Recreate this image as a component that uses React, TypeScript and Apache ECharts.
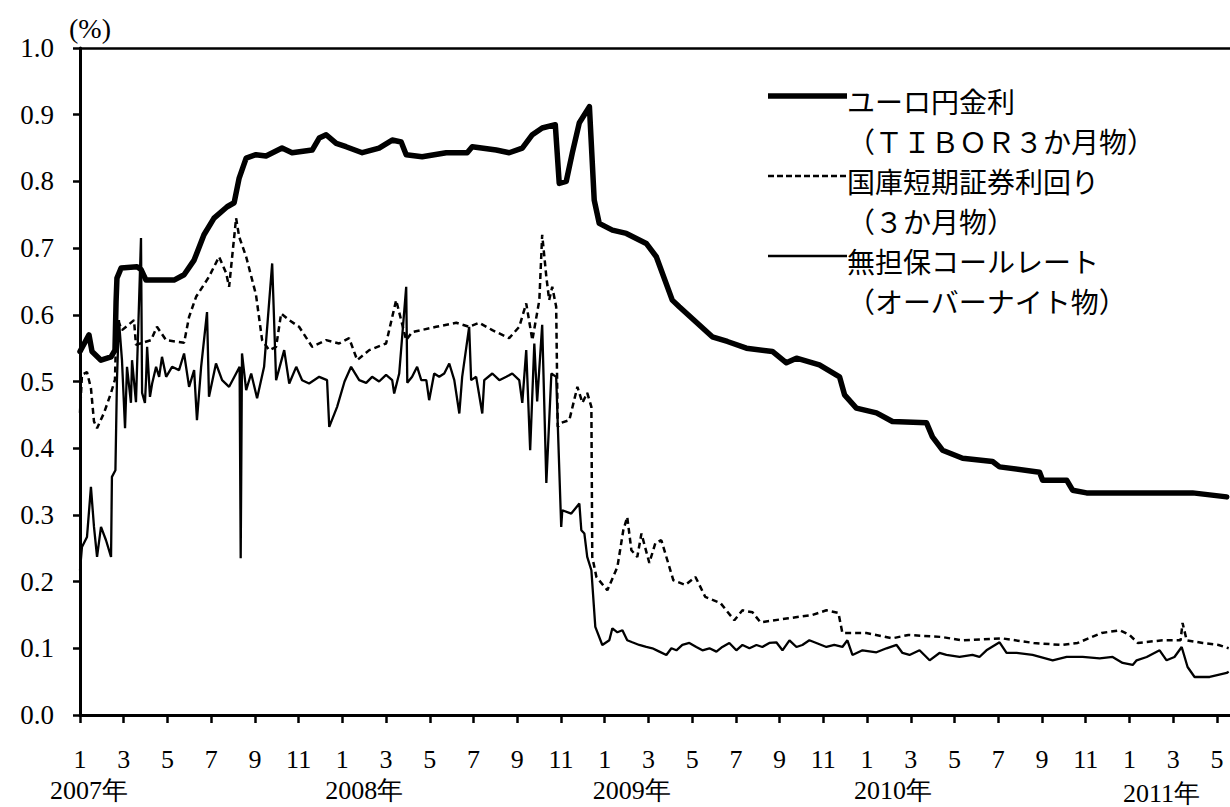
import React, { useEffect, useRef } from "react";
import * as echarts from "echarts";

// x values are months elapsed since 1 Jan 2007 (0 = Jan 2007, 12 = Jan 2008 ...)
const monthTicks = [0, 2, 4, 6, 8, 10, 12, 14, 16, 18, 20, 22, 24, 26, 28, 30, 32, 34, 36, 38, 40, 42, 44, 46, 48, 50, 52];
const yearTickMonths = [0, 12, 24, 36, 48];
const yearLabels = ["2007年", "2008年", "2009年", "2010年", "2011年"];
const unitLabel = "(%)";

const seriesNames = [
  "ユーロ円金利（ＴＩＢＯＲ３か月物）",
  "国庫短期証券利回り（３か月物）",
  "無担保コールレート（オーバーナイト物）",
];
const legendText = [
  ["ユーロ円金利", "（ＴＩＢＯＲ３か月物）"],
  ["国庫短期証券利回り", "（３か月物）"],
  ["無担保コールレート", "（オーバーナイト物）"],
];

const tibor: [number, number][] = [
  [0.0, 0.545], [0.41, 0.57], [0.55, 0.545], [0.96, 0.532], [1.42, 0.537], [1.6, 0.547], [1.65, 0.62],
  [1.69, 0.655], [1.88, 0.67], [2.61, 0.672], [2.79, 0.668], [3.02, 0.652], [4.3, 0.652], [4.76, 0.66],
  [5.22, 0.682], [5.67, 0.72], [6.13, 0.745], [6.73, 0.762], [7.05, 0.768], [7.28, 0.805], [7.6, 0.835],
  [8.05, 0.84], [8.51, 0.838], [9.24, 0.85], [9.7, 0.843], [10.62, 0.847], [10.94, 0.865], [11.26, 0.87],
  [11.72, 0.857], [12.17, 0.852], [12.91, 0.843], [13.68, 0.85], [14.28, 0.862], [14.69, 0.859],
  [14.92, 0.84], [15.65, 0.837], [16.75, 0.843], [17.71, 0.843], [17.94, 0.852], [19.04, 0.847],
  [19.63, 0.843], [20.23, 0.85], [20.69, 0.87], [21.14, 0.88], [21.74, 0.885], [21.92, 0.797],
  [22.24, 0.8], [22.52, 0.843], [22.84, 0.888], [23.3, 0.912], [23.52, 0.772], [23.75, 0.737],
  [24.35, 0.727], [24.99, 0.722], [25.9, 0.707], [26.36, 0.687], [27.09, 0.622], [27.41, 0.612],
  [28.92, 0.567], [29.61, 0.56], [30.48, 0.55], [31.67, 0.545], [32.31, 0.528], [32.77, 0.535],
  [33.82, 0.525], [34.74, 0.507], [34.97, 0.48], [35.51, 0.46], [36.43, 0.453], [37.16, 0.44],
  [38.72, 0.438], [38.99, 0.417], [39.45, 0.397], [40.37, 0.385], [41.74, 0.38], [42.06, 0.372],
  [43.89, 0.364], [44.03, 0.352], [45.13, 0.352], [45.4, 0.337], [46.04, 0.333], [50.89, 0.333],
  [52.45, 0.327],
];

const tbill: [number, number][] = [
  [0.0, 0.453], [0.09, 0.51], [0.32, 0.514], [0.5, 0.49], [0.64, 0.44], [0.78, 0.43], [1.1, 0.453],
  [1.42, 0.483], [1.6, 0.503], [1.67, 0.597], [1.92, 0.577], [2.47, 0.592], [2.56, 0.555], [3.25, 0.562],
  [3.52, 0.582], [3.94, 0.562], [4.76, 0.558], [4.99, 0.597], [5.31, 0.627], [5.9, 0.657], [6.36, 0.687],
  [6.68, 0.663], [6.82, 0.642], [7.14, 0.745], [7.28, 0.717], [7.6, 0.687], [8.05, 0.63], [8.33, 0.562],
  [8.65, 0.547], [8.97, 0.552], [9.2, 0.602], [9.57, 0.592], [10.02, 0.582], [10.62, 0.552],
  [11.26, 0.562], [11.85, 0.557], [12.31, 0.565], [12.68, 0.532], [13.23, 0.547], [14.0, 0.557],
  [14.46, 0.622], [14.69, 0.592], [14.92, 0.562], [15.19, 0.574], [16.29, 0.582], [17.21, 0.588],
  [17.8, 0.582], [18.26, 0.588], [18.86, 0.577], [19.63, 0.565], [20.09, 0.582], [20.41, 0.617],
  [20.69, 0.562], [21.01, 0.622], [21.14, 0.72], [21.33, 0.657], [21.46, 0.622], [21.6, 0.642],
  [21.78, 0.612], [21.85, 0.432], [22.01, 0.438], [22.38, 0.442], [22.75, 0.492], [22.98, 0.468],
  [23.2, 0.483], [23.39, 0.462], [23.43, 0.237], [23.62, 0.207], [24.12, 0.187], [24.58, 0.222],
  [24.85, 0.277], [25.03, 0.297], [25.22, 0.247], [25.49, 0.237], [25.68, 0.272], [26.04, 0.228],
  [26.32, 0.258], [26.59, 0.262], [27.14, 0.202], [27.69, 0.195], [28.15, 0.207], [28.6, 0.177],
  [29.29, 0.168], [29.93, 0.142], [30.3, 0.157], [30.76, 0.154], [31.12, 0.139], [32.4, 0.145],
  [33.5, 0.15], [34.14, 0.157], [34.69, 0.153], [34.87, 0.123], [35.97, 0.123], [37.16, 0.115],
  [37.89, 0.12], [39.41, 0.117], [40.32, 0.112], [42.15, 0.115], [43.62, 0.108], [44.9, 0.105],
  [45.63, 0.108], [46.73, 0.123], [47.55, 0.127], [48.01, 0.12], [48.38, 0.108], [49.52, 0.112],
  [50.34, 0.112], [50.43, 0.138], [50.62, 0.112], [51.35, 0.108], [52.08, 0.105], [52.54, 0.1],
];

const callRate: [number, number][] = [
  [0.0, 0.217], [0.09, 0.252], [0.32, 0.267], [0.5, 0.342], [0.64, 0.282], [0.78, 0.237], [0.96, 0.282],
  [1.19, 0.262], [1.42, 0.237], [1.46, 0.357], [1.62, 0.367], [1.69, 0.502], [1.78, 0.592], [1.92, 0.532],
  [2.06, 0.43], [2.15, 0.522], [2.33, 0.468], [2.38, 0.532], [2.56, 0.469], [2.61, 0.522], [2.79, 0.715],
  [2.84, 0.483], [2.97, 0.468], [3.02, 0.502], [3.07, 0.552], [3.2, 0.477], [3.3, 0.497], [3.48, 0.522],
  [3.62, 0.507], [3.75, 0.537], [3.94, 0.507], [4.21, 0.522], [4.53, 0.517], [4.76, 0.542], [4.99, 0.492],
  [5.22, 0.517], [5.35, 0.442], [5.54, 0.522], [5.81, 0.604], [5.9, 0.477], [6.22, 0.527], [6.5, 0.502],
  [6.82, 0.492], [7.14, 0.512], [7.3, 0.522], [7.35, 0.235], [7.41, 0.542], [7.6, 0.487], [7.83, 0.512],
  [8.1, 0.475], [8.42, 0.522], [8.79, 0.677], [8.97, 0.502], [9.34, 0.547], [9.57, 0.497], [9.89, 0.522],
  [10.16, 0.502], [10.48, 0.497], [10.94, 0.507], [11.3, 0.502], [11.4, 0.432], [11.76, 0.462],
  [12.1, 0.5], [12.4, 0.522], [12.77, 0.502], [13.09, 0.498], [13.36, 0.507], [13.68, 0.5], [14.0, 0.51],
  [14.28, 0.502], [14.37, 0.482], [14.6, 0.512], [14.92, 0.642], [14.97, 0.498], [15.19, 0.507],
  [15.42, 0.522], [15.61, 0.502], [15.84, 0.502], [15.97, 0.472], [16.2, 0.512], [16.43, 0.507],
  [16.66, 0.512], [16.89, 0.527], [17.12, 0.502], [17.35, 0.452], [17.48, 0.507], [17.8, 0.582],
  [17.89, 0.502], [18.12, 0.507], [18.4, 0.452], [18.49, 0.502], [18.86, 0.512], [19.18, 0.502],
  [19.5, 0.507], [19.77, 0.512], [20.09, 0.502], [20.23, 0.468], [20.41, 0.547], [20.59, 0.397],
  [20.78, 0.557], [20.91, 0.47], [21.14, 0.585], [21.33, 0.348], [21.56, 0.512], [21.78, 0.507],
  [22.01, 0.282], [22.06, 0.307], [22.47, 0.302], [22.84, 0.317], [22.93, 0.277], [23.07, 0.272],
  [23.2, 0.237], [23.39, 0.217], [23.57, 0.132], [23.89, 0.105], [24.21, 0.112], [24.35, 0.13],
  [24.58, 0.124], [24.81, 0.127], [25.03, 0.112], [25.26, 0.109], [25.58, 0.105], [25.9, 0.102],
  [26.18, 0.1], [26.5, 0.095], [26.82, 0.09], [27.05, 0.1], [27.28, 0.097], [27.55, 0.105], [27.87, 0.108],
  [28.19, 0.102], [28.47, 0.097], [28.79, 0.1], [29.11, 0.095], [29.38, 0.102], [29.7, 0.108],
  [30.02, 0.097], [30.3, 0.105], [30.62, 0.1], [30.94, 0.105], [31.21, 0.102], [31.53, 0.108],
  [31.85, 0.109], [32.13, 0.097], [32.45, 0.112], [32.77, 0.102], [33.04, 0.105], [33.36, 0.112],
  [33.68, 0.108], [34.14, 0.102], [34.5, 0.105], [34.87, 0.102], [35.1, 0.112], [35.33, 0.09],
  [35.79, 0.097], [36.43, 0.094], [36.89, 0.1], [37.35, 0.105], [37.62, 0.093], [37.94, 0.09],
  [38.4, 0.097], [38.86, 0.082], [39.31, 0.093], [39.63, 0.09], [40.23, 0.087], [40.82, 0.09],
  [41.14, 0.087], [41.46, 0.097], [42.06, 0.109], [42.38, 0.093], [42.84, 0.093], [43.57, 0.09],
  [44.49, 0.082], [45.13, 0.087], [45.86, 0.087], [46.64, 0.085], [47.23, 0.087], [47.69, 0.078],
  [48.15, 0.075], [48.33, 0.082], [48.79, 0.087], [49.38, 0.097], [49.7, 0.082], [50.06, 0.087],
  [50.39, 0.102], [50.66, 0.072], [50.98, 0.057], [51.67, 0.057], [52.45, 0.063], [52.54, 0.065],
];

const X_MAX = 52.6;
const NUM_FONT = "Liberation Serif";
const JP_FONT = "Noto Sans CJK JP";

export default function App() {
  const ref = useRef<HTMLDivElement>(null);

  useEffect(() => {
    if (!ref.current) return;
    const chart = echarts.init(ref.current, null, { renderer: "svg" });
    const axisLineStyle = { color: "#000", width: 3 };

    chart.setOption({
      animation: false,
      backgroundColor: "#fff",
      grid: { left: 80, right: 0, top: 48, bottom: 92, containLabel: false },
      xAxis: [
        {
          type: "value",
          min: 0,
          max: X_MAX,
          position: "bottom",
          axisLine: { show: true, lineStyle: axisLineStyle },
          axisTick: { show: true, customValues: monthTicks, length: 8, lineStyle: { color: "#000", width: 2.5 } },
          axisLabel: {
            customValues: monthTicks,
            formatter: (v: number) => String((Math.round(v) % 12) + 1),
            color: "#000",
            fontFamily: NUM_FONT,
            fontSize: 26,
            margin: 31,
          },
          splitLine: { show: false },
        },
        {
          type: "value",
          min: 0,
          max: X_MAX,
          position: "top",
          axisLine: { show: true, onZero: false, lineStyle: { color: "#000", width: 2.5 } },
          axisTick: { show: false },
          axisLabel: { show: false },
          splitLine: { show: false },
        },
      ],
      yAxis: {
        type: "value",
        min: 0,
        max: 1,
        interval: 0.1,
        axisLine: { show: true, lineStyle: axisLineStyle },
        axisTick: { show: true, length: 7, lineStyle: { color: "#000", width: 2.5 } },
        axisLabel: {
          formatter: (v: number) => v.toFixed(1),
          color: "#000",
          fontFamily: NUM_FONT,
          fontSize: 27,
          margin: 26,
        },
        splitLine: { show: false },
      },
      series: [
        {
          name: seriesNames[1],
          type: "line",
          data: tbill,
          symbol: "none",
          lineStyle: { color: "#000", width: 2.5, type: [6, 4] },
        },
        {
          name: seriesNames[2],
          type: "line",
          data: callRate,
          symbol: "none",
          lineStyle: { color: "#000", width: 2.3 },
        },
        {
          name: seriesNames[0],
          type: "line",
          data: tibor,
          symbol: "none",
          lineStyle: { color: "#000", width: 5.5, join: "round", cap: "round" },
        },
      ],
    });

    const yearOffsets = [9, 22, 27, 26, 32];
    const yearDy = [0, 0, 0, 0, 3];
    const yearGraphics = yearTickMonths.map((m, i) => {
      const px = chart.convertToPixel({ xAxisIndex: 0 }, m) as number;
      return {
        type: "text",
        x: px + yearOffsets[i],
        y: 790 + yearDy[i],
        style: {
          text: yearLabels[i],
          fill: "#000",
          font: `26px "${NUM_FONT}"`,
          align: "center",
          verticalAlign: "middle",
        },
      };
    });

    const legendStyles = [
      { lineWidth: 5.5, lineDash: null as any },
      { lineWidth: 2.5, lineDash: [6, 3] },
      { lineWidth: 2.5, lineDash: null as any },
    ];
    const legendGraphics: any[] = [];
    legendText.forEach((pair, i) => {
      const base = 101 + i * 80;
      legendGraphics.push({
        type: "line",
        shape: { x1: 768, y1: base - 5, x2: 847, y2: base - 5 },
        style: { stroke: "#000", lineWidth: legendStyles[i].lineWidth, lineDash: legendStyles[i].lineDash },
      });
      pair.forEach((t, j) => {
        legendGraphics.push({
          type: "text",
          x: 847,
          y: base + j * 40,
          style: { text: t, fill: "#000", font: `28px "${JP_FONT}"`, verticalAlign: "middle", align: "left" },
        });
      });
    });

    chart.setOption({
      graphic: [
        {
          type: "text",
          x: 69,
          y: 28,
          style: { text: unitLabel, fill: "#000", font: `28px "${NUM_FONT}"`, verticalAlign: "middle", align: "left" },
        },
        ...legendGraphics,
        ...yearGraphics,
      ],
    });

    return () => chart.dispose();
  }, []);

  return <div ref={ref} style={{ position: "absolute", left: 0, top: 0, width: 1230, height: 807 }} />;
}
